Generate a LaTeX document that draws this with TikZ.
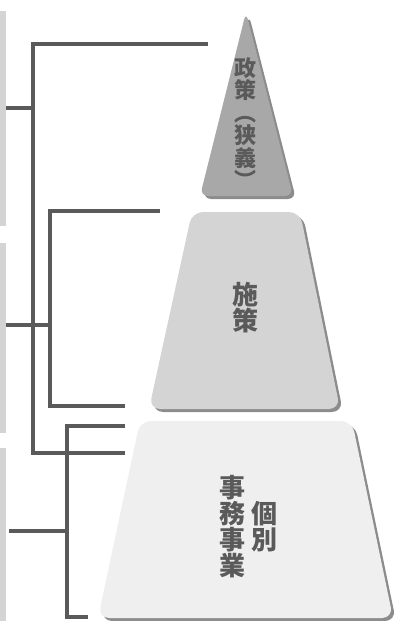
\documentclass[tikz,border=0pt]{standalone}
\usepackage{fontspec}
\newfontfamily\cjk{Noto Sans CJK JP}
\definecolor{colBar}{HTML}{D4D4D4}
\definecolor{colLine}{HTML}{5A5A5A}
\definecolor{colShadow}{HTML}{8C8C8C}
\definecolor{colTop}{HTML}{A8A8A8}
\definecolor{colMid}{HTML}{D4D4D4}
\definecolor{colLow}{HTML}{EFEFEF}
\tikzstyle{bar}=[fill=colBar, draw=none]
\tikzstyle{bracket}=[line width=4.5pt, colLine, line cap=butt, line join=miter]
\tikzstyle{level}=[rounded corners=11pt, draw=none]
\tikzstyle{shade}=[level, fill=colShadow]
\tikzstyle{label}=[font=\cjk\bfseries, text=colLine, inner sep=0pt, align=center]

\begin{document}
\begin{tikzpicture}[x=1pt, y=-1pt]
			\useasboundingbox (0,0) rectangle (395,621);
			% grey bars on the left
			\fill[bar] (0,11) rectangle (6,226);
			\fill[bar] (0,243) rectangle (6,433);
			\fill[bar] (0,448) rectangle (6,621);
			% levels of the pyramid
			\fill[shade,rounded corners=8pt] (249,15) -- (203,199) -- (296,199) -- cycle;
			\fill[level,fill=colTop,rounded corners=8pt] (246,12) -- (200,196) -- (293,196) -- cycle;
			\fill[shade] (195,215) -- (303,215) -- (343,412) -- (152,412) -- cycle;
			\fill[level,fill=colMid] (192,212) -- (300,212) -- (340,409) -- (149,409) -- cycle;
			\fill[shade] (143,424) -- (355,424) -- (396,621) -- (101,621) -- cycle;
			\fill[level,fill=colLow] (140,421) -- (352,421) -- (393,618) -- (98,618) -- cycle;
			% texts
			\node[label, font=\cjk\bfseries\fontsize{22}{22.5}\selectfont] (policy) at (245,123) {政\\策\\︵\\狭\\義\\︶};
			\node[label, font=\cjk\bfseries\fontsize{26}{26}\selectfont] (measure) at (245,308) {施\\策};
			\node[label, font=\cjk\bfseries\fontsize{26}{26}\selectfont] (work) at (232,527) {事\\務\\事\\業};
			\node[label, font=\cjk\bfseries\fontsize{26}{26}\selectfont] (single) at (264,527) {個\\別};
			% bracket points
			\coordinate (a0) at (6,108);
			\coordinate (a1) at (33,108);
			\coordinate (at) at (208,44);
			\coordinate (ab) at (125,453);
			\coordinate (b0) at (6,325);
			\coordinate (b1) at (50,325);
			\coordinate (bt) at (160,211);
			\coordinate (bb) at (125,406);
			\coordinate (c0) at (9,531);
			\coordinate (c1) at (67,531);
			\coordinate (ct) at (125,426);
			\coordinate (cb) at (88,617);
			% brackets
			\draw[bracket] (at) -| (a1) |- (ab);
			\draw[bracket] (a0) -- (a1);
			\draw[bracket] (bt) -| (b1) |- (bb);
			\draw[bracket] (b0) -- (b1);
			\draw[bracket] (ct) -| (c1) |- (cb);
			\draw[bracket] (c0) -- (c1);
		\end{tikzpicture}
\end{document}
